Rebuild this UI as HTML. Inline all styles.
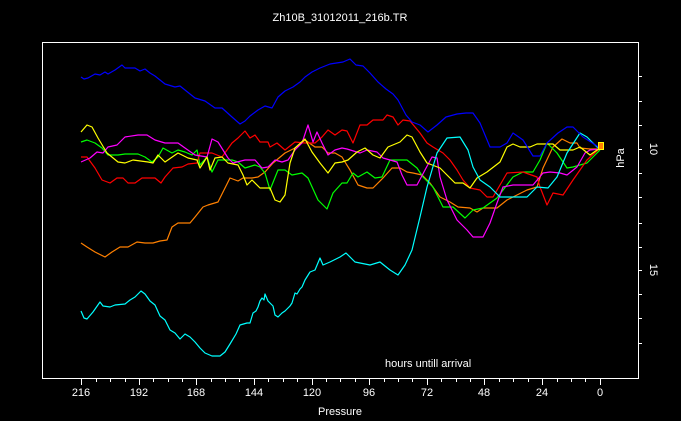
<!DOCTYPE html>
<html><head><meta charset="utf-8"><style>
html,body{margin:0;padding:0;background:#000;}
svg{display:block;}
text{font-family:"Liberation Sans",sans-serif;fill:#fff;font-size:11px;}
</style></head><body>
<svg width="681" height="421" viewBox="0 0 681 421" xmlns="http://www.w3.org/2000/svg">
<rect width="681" height="421" fill="#000"/>
<text x="340" y="21" text-anchor="middle">Zh10B_31012011_216b.TR</text>
<rect x="42.5" y="42.5" width="596" height="336" fill="none" stroke="#fff" stroke-width="1"/>
<g stroke="#fff" stroke-width="1">
<path d="M81.5 378v7M110.5 378v4M125.5 378v4M139.5 378v4M153.5 378v4M168.5 378v4M182.5 378v4M196.5 378v4M211.5 378v4M225.5 378v4M239.5 378v4M254.5 378v4M268.5 378v4M283.5 378v4M297.5 378v4M312.5 378v4M326.5 378v4M340.5 378v4M355.5 378v4M369.5 378v4M384.5 378v4M398.5 378v4M412.5 378v4M427.5 378v4M441.5 378v4M456.5 378v4M470.5 378v4M484.5 378v4M499.5 378v4M513.5 378v4M528.5 378v4M542.5 378v4M557.5 378v4M571.5 378v4M585.5 378v4M96.5 378v4"/>
<path d="M139.5 378v7M196.5 378v7M254.5 378v7M312.5 378v7M369.5 378v7M427.5 378v7M484.5 378v7M542.5 378v7M600.5 378v7M96.5 378v4"/>
<path d="M638 76.5h4M638 101.5h4M638 125.5h4M638 149.5h4M638 173.5h4M638 197.5h4M638 223.5h4M638 247.5h4M638 270.5h4M638 294.5h4M638 318.5h4M638 343.5h4"/>
</g>
<g text-anchor="middle">
<text x="81" y="396">216</text><text x="139" y="396">192</text><text x="196" y="396">168</text><text x="254" y="396">144</text><text x="312" y="396">120</text><text x="369" y="396">96</text><text x="427" y="396">72</text><text x="484" y="396">48</text><text x="542" y="396">24</text><text x="600" y="396">0</text>
</g>
<text x="340" y="415" text-anchor="middle">Pressure</text>
<text x="385" y="367">hours untill arrival</text>
<text transform="translate(650,149) rotate(90)" text-anchor="middle">10</text>
<text transform="translate(650,270) rotate(90)" text-anchor="middle">15</text>
<text transform="translate(624,158) rotate(-90)" text-anchor="middle">hPa</text>
<g fill="none" stroke-width="1.2" stroke-linejoin="round">
<polyline stroke="#ff8000" points="81,243 87,247 95,252 105,257 112,252 120,247 128,247 137,242 145,243 153,243 160,241 167,240 172,227 178,223 190,223 195,217 203,207 208,205 218,202 225,188 230,178 238,181 243,178 252,178 258,177 265,172 273,163 285,153 295,148 305,140 315,147 322,147 328,153 335,153 342,157 345,162 350,170 358,185 367,188 373,188 383,178 392,168 400,168 407,172 413,173 422,175 430,183 440,197 450,202 458,207 470,208 477,212 483,208 497,208 507,200 517,195 527,190 537,187 543,168 553,147 562,139 570,143 577,143 580,148 590,149 600,149"/>
<polyline stroke="#00ff00" points="81,142 87,140 95,143 102,148 108,155 118,155 125,154 138,154 145,157 152,162 158,157 163,148 172,153 178,150 185,152 192,155 197,150 200,165 207,157 212,172 218,160 232,160 238,162 245,168 255,165 260,167 265,173 270,190 278,170 285,170 292,175 302,173 308,178 318,200 327,209 333,193 342,183 347,183 353,173 358,177 367,172 375,178 382,177 390,160 407,160 417,168 423,177 433,187 443,207 453,207 465,218 473,210 483,208 497,198 513,177 523,172 533,172 540,160 547,143 557,153 567,168 573,167 587,163 600,150"/>
<polyline stroke="#ff0000" points="81,157 87,157 95,168 102,180 110,183 117,178 123,178 128,183 135,183 142,178 155,178 161,183 165,177 173,168 182,167 188,164 197,163 200,153 212,153 222,157 232,143 238,138 245,131 250,138 255,135 260,142 268,142 270,147 277,143 285,150 295,142 305,143 315,143 322,137 328,130 335,135 342,130 347,131 353,143 360,125 367,125 373,120 383,120 387,115 393,117 398,125 403,120 410,121 420,133 427,143 433,147 443,153 450,160 457,170 463,180 470,188 480,190 487,197 493,197 507,173 523,172 537,177 540,187 547,205 553,193 563,195 573,180 587,160 600,148"/>
<polyline stroke="#ff00ff" points="81,162 90,158 97,152 103,153 108,147 117,145 125,137 138,135 147,135 155,140 165,143 178,143 185,148 195,155 207,157 212,139 218,142 223,150 228,158 233,163 245,160 255,160 262,168 268,167 275,160 282,162 288,160 295,150 302,143 308,125 313,142 317,132 322,143 328,155 335,150 342,148 347,149 360,153 367,150 377,152 383,158 397,162 402,175 407,185 417,185 425,170 432,157 437,158 440,177 447,200 457,220 467,230 473,237 483,237 490,223 497,203 503,187 513,185 533,185 543,173 550,172 560,173 567,175 577,167 585,153 590,150 600,149"/>
<polyline stroke="#ffff00" points="81,132 87,125 92,127 98,138 107,153 118,162 125,163 133,160 148,162 153,163 158,155 165,162 178,153 188,158 197,160 200,168 207,157 210,170 215,158 222,157 228,163 238,165 243,175 247,185 252,180 260,188 270,188 275,200 280,202 285,195 290,163 295,148 305,139 312,152 320,163 328,173 335,163 342,162 348,160 357,152 365,148 373,155 380,158 388,147 400,142 407,135 412,137 420,152 427,163 440,168 447,175 455,183 463,183 470,188 477,178 487,172 500,162 507,147 513,144 520,147 530,147 537,144 553,144 560,150 573,150 580,147 590,155 597,150 600,149"/>
<polyline stroke="#00ffff" points="81,311 84,318 87,319 93,312 100,302 103,306 110,307 115,305 125,304 130,300 135,297 141,291 145,294 150,301 155,305 160,316 165,320 170,330 175,333 180,339 185,334 190,337 195,342 200,348 205,353 212,356 220,356 225,352 230,344 236,334 240,325 247,323 250,323 253,313 256,311 258,307 260,301 262,298 264,300 265,294 268,301 273,306 275,315 278,317 282,313 285,311 290,306 292,303 295,293 297,294 300,289 302,287 305,280 310,272 315,270 320,258 323,265 330,262 340,257 346,253 355,262 370,265 380,262 390,270 398,275 405,265 412,250 420,217 427,187 437,153 447,138 460,137 468,150 473,167 480,180 490,187 500,197 513,197 527,197 537,187 548,188 557,177 567,153 580,133 587,137 597,147 600,148"/>
<polyline stroke="#0000ff" points="81,77 84,79 88,78 95,74 100,75 105,72 108,74 115,70 122,65 125,68 135,68 140,71 145,69 150,73 155,76 165,84 175,87 180,86 185,90 195,98 205,101 215,108 222,108 232,117 240,124 245,121 250,116 258,110 265,106 272,108 278,97 285,91 293,87 300,82 305,77 312,72 320,68 330,64 343,62 350,59 356,65 363,66 370,73 378,82 386,89 393,94 398,100 406,115 412,122 420,125 428,132 437,125 446,117 457,114 466,113 473,113 480,123 490,147 500,147 507,143 513,133 523,140 533,156 540,156 547,143 558,133 567,127 573,127 583,137 600,148"/>
</g>
<rect x="598.5" y="142.5" width="5" height="7" fill="#ff8000" stroke="#ffff00" stroke-width="1"/>
</svg>
</body></html>
